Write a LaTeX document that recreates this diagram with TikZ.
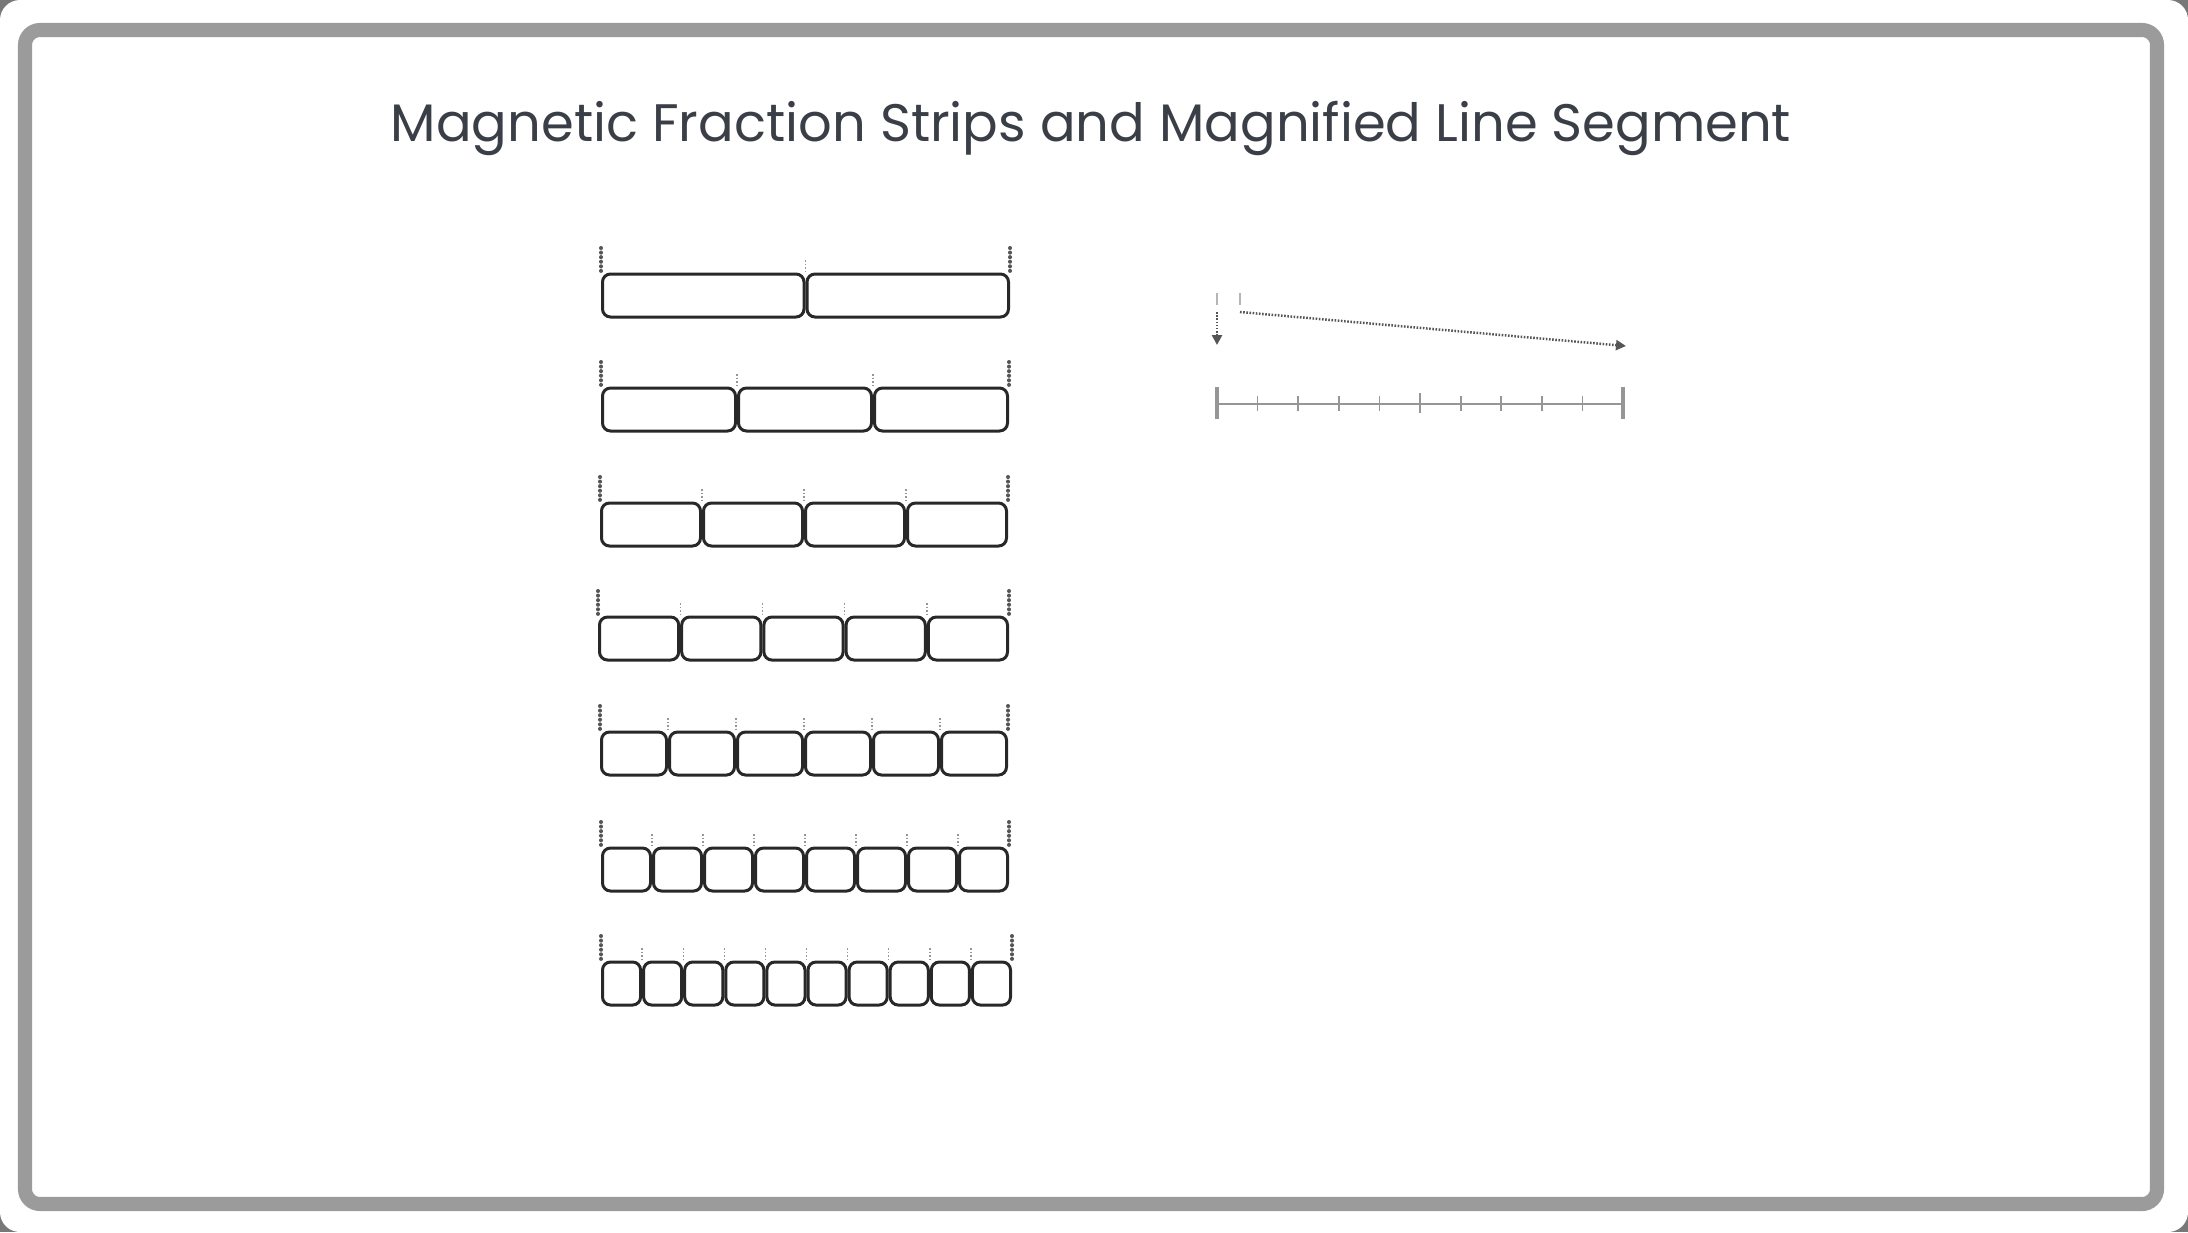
\documentclass[tikz,border=0pt]{standalone}
\usepackage{fontspec}
\setmainfont{Poppins}
\usepackage{tikz}
\usetikzlibrary{positioning, arrows.meta}
\definecolor{titleink}{RGB}{58,62,70}
\definecolor{framegray}{RGB}{155,155,155}
\definecolor{stripink}{RGB}{40,40,40}
\definecolor{tickdark}{RGB}{85,85,85}
\definecolor{ticklight}{RGB}{150,150,150}
\definecolor{segline}{RGB}{150,150,150}
\definecolor{cornershade}{RGB}{120,120,120}
\tikzset{
  piece/.style={draw=stripink, line width=0.85pt, rounded corners=0.8mm, fill=white},
  endtick/.style={draw=tickdark, line width=1.15pt, line cap=round, dash pattern=on 0pt off 1.3pt},
  midtick/.style={draw=ticklight, line width=0.4pt, dash pattern=on 0.5pt off 0.5pt},
  frame/.style={draw=framegray, line width=4pt, rounded corners=1.5mm},
  segtick/.style={draw=segline, line width=0.5pt},
  pointer/.style={draw=tickdark, line width=0.7pt, dash pattern=on 0.45pt off 0.45pt, -{Triangle[length=1mm, width=1mm]}},
}

\begin{document}
\begin{tikzpicture}[x=0.01cm, y=-0.01cm]
\useasboundingbox (0,0) rectangle (2188,1232);
\fill[cornershade] (0,0) rectangle (2188,1232);
\fill[white, rounded corners=2mm] (0,0) rectangle (2188,1232);
\draw[frame] (25,30) rectangle (2157,1204);

\node[font=\fontsize{15}{18}\selectfont, text=titleink, anchor=base] (title) at (1091,141)
  {Magnetic Fraction Strips and Magnified Line Segment};

% fraction strips: pieces / left / right / top
\foreach \n/\xa/\xb/\yt [count=\r] in {2/601/1010/274, 3/601/1009/388, 4/600/1008/503,
    5/598/1009/617, 6/600/1008/732, 8/601/1009/848, 10/601/1012/962} {
  \pgfmathsetmacro\pw{(\xb-\xa)/\n}
  \foreach \k in {1,...,\n} {
    \draw[piece] ({\xa+(\k-1)*\pw+1.5},\yt) rectangle ({\xa+\k*\pw-1.5},\yt+43);
  }
  \foreach \k in {1,...,\numexpr\n-1\relax} {
    \draw[midtick] ({\xa+\k*\pw},\yt-14) -- ({\xa+\k*\pw},\yt-2);
  }
  \draw[endtick] (\xa,\yt-26) -- (\xa,\yt-1);
  \draw[endtick] (\xb,\yt-26) -- (\xb,\yt-1);
}

% magnified segment
\coordinate (seg-a) at (1217,404);
\coordinate (seg-b) at (1623,404);
\draw[segline, line width=0.75pt] (seg-a) -- (seg-b);
\draw[segline, line width=1.3pt] (1217,387) -- (1217,419) (1623,387) -- (1623,419);
\draw[segline, line width=0.75pt] (1420,393) -- (1420,413);
\foreach \k in {1,2,3,4,6,7,8,9}
  \draw[segtick] ({1217+\k*40.6},396) -- ({1217+\k*40.6},411);

\coordinate (zoom-a) at (1217,293);
\coordinate (zoom-b) at (1240,293);
\draw[draw=ticklight!70, line width=0.5pt] (zoom-a) -- ++(0,12) (zoom-b) -- ++(0,12);
\coordinate (drop-a) at (1217,312);
\coordinate (drop-b) at (1217,345);
\coordinate (reach-a) at (1240,312);
\coordinate (reach-b) at (1626,346);
\draw[pointer] (drop-a) -- (drop-b);
\draw[pointer] (reach-a) -- (reach-b);
\end{tikzpicture}
\end{document}
